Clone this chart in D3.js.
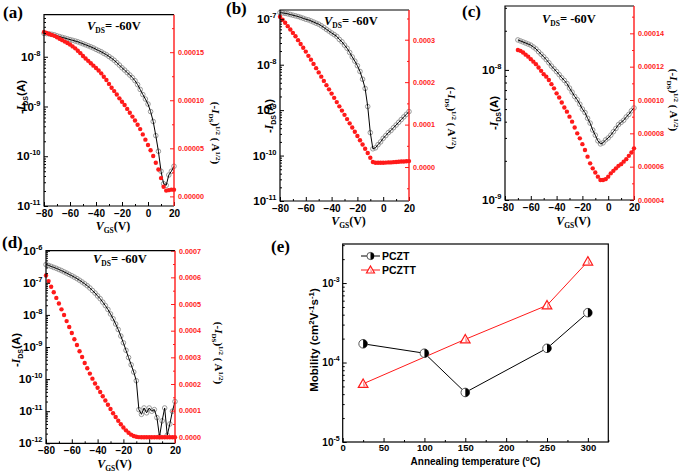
<!DOCTYPE html>
<html><head><meta charset="utf-8">
<script src="https://cdn.jsdelivr.net/npm/d3@7"></script>
<style>body{margin:0;background:#fff}svg{display:block}</style>
</head><body>
<svg id="chart" width="685" height="476"></svg>
<script>
// ---------------- data ----------------
const vgsABD = [-80,-78,-76,-74,-72,-70,-68,-66,-64,-62,-60,-58,-56,-54,-52,-50,-48,-46,-44,-42,-40,-38,-36,-34,-32,-30,-28,-26,-24,-22,-20,-18,-16,-14,-12,-10,-8,-6,-4,-2,0,2,4,6,8,10,12,14,16,18,20];
const vgsC = [-70,-68,-66,-64,-62,-60,-58,-56,-54,-52,-50,-48,-46,-44,-42,-40,-38,-36,-34,-32,-30,-28,-26,-24,-22,-20,-18,-16,-14,-12,-10,-8,-6,-4,-2,0,2,4,6,8,10,12,14,16,18,20];

// -I_DS (A)
const idsA = [2.95e-8,2.92e-8,2.88e-8,2.82e-8,2.75e-8,2.63e-8,2.54e-8,2.45e-8,2.37e-8,2.29e-8,2.21e-8,2.14e-8,2.07e-8,2.0e-8,1.91e-8,1.82e-8,1.74e-8,1.66e-8,1.58e-8,1.50e-8,1.41e-8,1.33e-8,1.26e-8,1.17e-8,1.10e-8,1.01e-8,9.3e-9,8.5e-9,7.6e-9,6.8e-9,6.0e-9,5.4e-9,4.8e-9,4.3e-9,3.8e-9,3.3e-9,2.75e-9,2.2e-9,1.74e-9,1.41e-9,1.12e-9,7.9e-10,5.0e-10,2.6e-10,1.26e-10,5.0e-11,2.8e-11,2.6e-11,4.2e-11,5.0e-11,6.3e-11];
const idsB = [1.40e-7,1.38e-7,1.35e-7,1.32e-7,1.27e-7,1.23e-7,1.19e-7,1.15e-7,1.10e-7,1.05e-7,1.0e-7,9.7e-8,9.2e-8,8.7e-8,8.2e-8,7.8e-8,7.2e-8,6.6e-8,6.0e-8,5.5e-8,5.0e-8,4.6e-8,4.2e-8,3.6e-8,3.2e-8,2.7e-8,2.3e-8,1.86e-8,1.48e-8,1.2e-8,9.5e-9,7.1e-9,4.8e-9,3.0e-9,1.2e-9,3.2e-10,1.41e-10,1.48e-10,1.74e-10,2.0e-10,2.4e-10,2.75e-10,3.2e-10,3.55e-10,4.1e-10,4.7e-10,5.4e-10,6.2e-10,7.1e-10,8.1e-10,9.3e-10];
const idsC = [1.70e-8,1.67e-8,1.64e-8,1.61e-8,1.58e-8,1.55e-8,1.50e-8,1.45e-8,1.38e-8,1.32e-8,1.26e-8,1.20e-8,1.135e-8,1.07e-8,1.02e-8,9.7e-9,9.2e-9,8.7e-9,8.3e-9,7.85e-9,7.25e-9,6.75e-9,6.25e-9,5.9e-9,5.45e-9,5.0e-9,4.7e-9,4.25e-9,3.9e-9,3.45e-9,3.15e-9,2.85e-9,2.7e-9,2.75e-9,2.9e-9,3.0e-9,3.15e-9,3.35e-9,3.55e-9,3.8e-9,3.95e-9,4.1e-9,4.35e-9,4.55e-9,4.85e-9,5.1e-9];
const idsD = [3.7e-7,3.47e-7,3.24e-7,3.02e-7,2.82e-7,2.6e-7,2.4e-7,2.19e-7,2.0e-7,1.82e-7,1.66e-7,1.5e-7,1.35e-7,1.2e-7,1.06e-7,9.3e-8,8.1e-8,6.9e-8,5.75e-8,4.8e-8,3.9e-8,3.2e-8,2.5e-8,1.95e-8,1.48e-8,1.07e-8,7.6e-9,5.2e-9,3.5e-9,2.2e-9,1.35e-9,7.9e-10,4.7e-10,2.8e-10,1.66e-10,8.9e-11,1.12e-11,8e-12,1.26e-11,8.9e-12,1.26e-11,1.0e-11,1.12e-11,6.3e-12,1.6e-12,5e-12,1.26e-11,1.8e-12,4e-12,1.0e-11,2.0e-11];

// (-I_DS)^1/2 in units of 1e-4 A^1/2
const sqrtA = [1.71,1.70,1.69,1.68,1.67,1.655,1.64,1.625,1.61,1.595,1.58,1.56,1.54,1.515,1.49,1.46,1.435,1.41,1.385,1.36,1.335,1.31,1.28,1.245,1.21,1.17,1.13,1.095,1.06,1.02,0.985,0.95,0.91,0.87,0.83,0.79,0.745,0.70,0.645,0.59,0.535,0.48,0.42,0.35,0.28,0.19,0.10,0.06,0.065,0.07,0.07];
const sqrtB = [3.54,3.47,3.40,3.32,3.24,3.16,3.08,2.99,2.90,2.81,2.72,2.62,2.53,2.43,2.33,2.23,2.13,2.03,1.93,1.83,1.73,1.63,1.53,1.43,1.33,1.23,1.13,1.03,0.93,0.83,0.73,0.63,0.53,0.43,0.33,0.22,0.12,0.10,0.10,0.10,0.10,0.105,0.11,0.11,0.115,0.12,0.125,0.13,0.13,0.135,0.14];
const sqrtC = [1.30,1.295,1.285,1.272,1.26,1.245,1.23,1.215,1.195,1.175,1.155,1.14,1.12,1.095,1.07,1.04,1.015,0.985,0.955,0.93,0.90,0.87,0.835,0.80,0.77,0.735,0.70,0.66,0.62,0.59,0.565,0.54,0.52,0.52,0.525,0.54,0.56,0.575,0.59,0.605,0.615,0.63,0.645,0.665,0.685,0.71];
const sqrtD = [6.07,5.86,5.65,5.44,5.23,5.02,4.80,4.59,4.36,4.14,3.91,3.68,3.46,3.23,3.01,2.79,2.59,2.39,2.20,2.02,1.86,1.70,1.54,1.38,1.22,1.06,0.90,0.76,0.62,0.49,0.37,0.26,0.17,0.10,0.05,0.02,0.005,0,0,0,0,0,0,0,0,0,0,0,0,0,0];

// tick labels
const xTicksV = [-80,-60,-40,-20,0,20];
const logTicksA = [1e-11,1e-10,1e-9,1e-8];
const logTicksB = [1e-11,1e-10,1e-9,1e-8,1e-7];
const logTicksC = [1e-9,1e-8];
const logTicksD = [1e-12,1e-11,1e-10,1e-9,1e-8,1e-7,1e-6];
const rTicksA = [0,0.5,1.0,1.5];
const rLabelsA = ["0.00000","0.00005","0.00010","0.00015"];
const rTicksB = [0,1,2,3];
const rLabelsB = ["0.0000","0.0001","0.0002","0.0003"];
const rTicksC = [0.4,0.6,0.8,1.0,1.2,1.4];
const rLabelsC = ["0.00004","0.00006","0.00008","0.00010","0.00012","0.00014"];
const rTicksD = [0,1,2,3,4,5,6,7];
const rLabelsD = ["0.0000","0.0001","0.0002","0.0003","0.0004","0.0005","0.0006","0.0007"];

// (e) mobility
const tempPCZT = [25,100,150,250,300];
const mobPCZT = [1.72e-4,1.31e-4,4.2e-5,1.51e-4,4.24e-4];
const tempPCZTT = [25,150,250,300];
const mobPCZTT = [5.4e-5,1.96e-4,5.24e-4,1.87e-3];
const tempTicks = [0,50,100,150,200,250,300];
const mobTicks = [1e-5,1e-4,1e-3];

// ---------------- drawing ----------------
const svg = d3.select('#chart');
const SANS = "'Liberation Sans', Arial, sans-serif";
const SERIF = "'Liberation Serif', 'Times New Roman', serif";
const RED = '#ff1a1a';

function logMinors(domain) {
  const out = [];
  const lo = Math.floor(Math.log10(domain[0])), hi = Math.ceil(Math.log10(domain[1]));
  for (let e = lo; e <= hi; e++) for (let m = 2; m <= 9; m++) {
    const v = m * Math.pow(10, e);
    if (v > domain[0] && v < domain[1]) out.push(v);
  }
  return out;
}

function styleAxis(g, color) {
  g.select('.domain').remove();
  g.selectAll('line').attr('stroke', color).attr('stroke-width', 1);
  g.selectAll('text').attr('fill', color);
}
function powLabels(g, size, expSize) {
  g.selectAll('.tick text').each(function(d) {
    const t = d3.select(this);
    const e = Math.round(Math.log10(d));
    t.text(null).attr('font-family', SANS).attr('font-weight', 'bold').attr('font-size', size);
    t.append('tspan').text('10');
    t.append('tspan').attr('dy', -5).attr('font-size', expSize).text(String(e));
  });
}

function transferPanel(c) {
  const g = svg.append('g');
  const x = d3.scaleLinear().domain([-80, 20]).range([c.x0, c.x1]);
  const yL = d3.scaleLog().domain(c.logDomain).range([c.y1, c.y0]);
  const yR = d3.scaleLinear().domain(c.rDomain).range([c.y1, c.y0]);

  // black (log) series: open gray circles + black line
  const bp = c.vgs.map((v, i) => [v, c.ids[i]]).filter(d => d[1] != null);
  g.append('g').selectAll('circle').data(bp).join('circle')
    .attr('cx', d => x(d[0])).attr('cy', d => yL(d[1])).attr('r', 2.3)
    .attr('fill', 'none').attr('stroke', '#8f8f8f').attr('stroke-width', 0.9);
  g.append('path').datum(bp)
    .attr('d', d3.line().x(d => x(d[0])).y(d => yL(d[1])))
    .attr('fill', 'none').attr('stroke', '#000').attr('stroke-width', 1);

  // red sqrt series
  const rp = c.vgs.map((v, i) => [v, c.sqrt[i]]).filter(d => d[1] != null);
  g.append('g').selectAll('circle').data(rp).join('circle')
    .attr('cx', d => x(d[0])).attr('cy', d => yR(d[1])).attr('r', 2.2)
    .attr('fill', RED);

  // bottom axis
  const bx = g.append('g').attr('transform', `translate(0,${c.y1})`)
    .call(d3.axisBottom(x).tickValues(xTicksV).tickSize(-4).tickPadding(3.5).tickFormat(d3.format('d')));
  styleAxis(bx, '#000');
  bx.selectAll('text').attr('font-family', SANS).attr('font-weight', 'bold').attr('font-size', 10);
  const bxm = g.append('g').attr('transform', `translate(0,${c.y1})`)
    .call(d3.axisBottom(x).tickValues([-70,-50,-30,-10,10]).tickSize(-2).tickFormat(''));
  styleAxis(bxm, '#000');

  // left log axis
  const ly = g.append('g').attr('transform', `translate(${c.x0},0)`)
    .call(d3.axisLeft(yL).tickValues(c.logTicks).tickSize(-4).tickPadding(3.5));
  styleAxis(ly, '#000');
  powLabels(ly, 11.5, 7.5);
  const lym = g.append('g').attr('transform', `translate(${c.x0},0)`)
    .call(d3.axisLeft(yL).tickValues(logMinors(c.logDomain)).tickSize(-2).tickFormat(''));
  styleAxis(lym, '#000');

  // right linear axis (red)
  const ry = g.append('g').attr('transform', `translate(${c.x1},0)`)
    .call(d3.axisRight(yR).tickValues(c.rTicks).tickSize(-4).tickPadding(4)
      .tickFormat((d, i) => c.rLabels[i]));
  styleAxis(ry, RED);
  ry.selectAll('text').attr('font-family', SANS).attr('font-weight', 'bold').attr('font-size', 7.2);
  const rym = g.append('g').attr('transform', `translate(${c.x1},0)`)
    .call(d3.axisRight(yR).tickValues(c.rMinor).tickSize(-2).tickFormat(''));
  styleAxis(rym, RED);

  // frame
  g.append('path').attr('d', `M${c.x1},${c.y0}H${c.x0}V${c.y1}H${c.x1}`)
    .attr('fill', 'none').attr('stroke', '#000').attr('stroke-width', 1.2);
  g.append('line').attr('x1', c.x1).attr('x2', c.x1).attr('y1', c.y0).attr('y2', c.y1)
    .attr('stroke', RED).attr('stroke-width', 1.4);

  // panel letter
  g.append('text').attr('x', c.letterX).attr('y', c.letterY)
    .attr('font-family', SERIF).attr('font-weight', 'bold').attr('font-size', 17).text(c.letter);

  // V_DS label
  const vt = g.append('text').attr('x', c.vdsX).attr('y', c.vdsY)
    .attr('font-family', SERIF).attr('font-weight', 'bold').attr('font-size', 12.5);
  vt.append('tspan').attr('font-style', 'italic').text('V');
  vt.append('tspan').attr('font-size', 7.5).attr('dy', 3).text('DS');
  vt.append('tspan').attr('dy', -3).text('= -60V');

  // x title
  const xt = g.append('text').attr('x', (c.x0 + c.x1) / 2 + 4).attr('y', c.xTitleY)
    .attr('text-anchor', 'middle')
    .attr('font-family', SERIF).attr('font-weight', 'bold').attr('font-size', 12);
  xt.append('tspan').attr('font-style', 'italic').text('V');
  xt.append('tspan').attr('font-size', 7.5).attr('dy', 3).text('GS');
  xt.append('tspan').attr('dy', -3).text('(V)');

  // left title
  const lt = g.append('text').attr('transform', `translate(${c.lTitleX},${c.lTitleY}) rotate(-90)`)
    .attr('text-anchor', 'middle').attr('dy', '0.35em')
    .attr('font-family', SANS).attr('font-weight', 'bold').attr('font-size', 11.5);
  lt.append('tspan').text('-');
  lt.append('tspan').attr('font-family', SERIF).attr('font-style', 'italic').text('I');
  lt.append('tspan').attr('font-size', 7).attr('dy', 3).text('DS');
  lt.append('tspan').attr('dy', -3).text('(A)');

  // right title
  const rt = g.append('text').attr('transform', `translate(${c.rTitleX},${c.rTitleY}) rotate(90)`)
    .attr('text-anchor', 'middle').attr('dy', '0.35em')
    .attr('font-family', SERIF).attr('font-weight', 'bold').attr('font-size', 11);
  rt.append('tspan').text('(-');
  rt.append('tspan').attr('font-style', 'italic').text('I');
  rt.append('tspan').attr('font-size', 7).attr('dy', 3).text('DS');
  rt.append('tspan').attr('dy', -3).text(')');
  rt.append('tspan').attr('font-size', 7).attr('dy', -4).text('1/2');
  rt.append('tspan').attr('dy', 4).text(' ( A');
  rt.append('tspan').attr('font-size', 7).attr('dy', -4).text('1/2');
  rt.append('tspan').attr('dy', 4).text(')');
}

transferPanel({ letter: '(a)', letterX: 3, letterY: 18, x0: 44, x1: 174, y0: 14.7, y1: 206,
  vgs: vgsABD, ids: idsA, sqrt: sqrtA,
  logDomain: [1e-11, 7e-8], logTicks: logTicksA,
  rDomain: [-0.1, 1.89], rTicks: rTicksA, rLabels: rLabelsA, rMinor: [0.25,0.75,1.25,1.75],
  vdsX: 87, vdsY: 30, xTitleY: 230, lTitleX: 21, lTitleY: 97, rTitleX: 216, rTitleY: 133 });

transferPanel({ letter: '(b)', letterX: 226, letterY: 14, x0: 280, x1: 409, y0: 10, y1: 201,
  vgs: vgsABD, ids: idsB, sqrt: sqrtB,
  logDomain: [1e-11, 1.6e-7], logTicks: logTicksB,
  rDomain: [-0.8, 3.7], rTicks: rTicksB, rLabels: rLabelsB, rMinor: [-0.5,0.5,1.5,2.5,3.5],
  vdsX: 324, vdsY: 25, xTitleY: 225, lTitleX: 269, lTitleY: 116, rTitleX: 452, rTitleY: 118 });

transferPanel({ letter: '(c)', letterX: 462, letterY: 17, x0: 505, x1: 634, y0: 6, y1: 200,
  vgs: vgsC, ids: idsC, sqrt: sqrtC,
  logDomain: [1e-9, 3.1e-8], logTicks: logTicksC,
  rDomain: [0.4, 1.564], rTicks: rTicksC, rLabels: rLabelsC, rMinor: [0.5,0.7,0.9,1.1,1.3,1.5],
  vdsX: 542, vdsY: 23, xTitleY: 225, lTitleX: 494, lTitleY: 113, rTitleX: 674, rTitleY: 100 });

transferPanel({ letter: '(d)', letterX: 2, letterY: 248, x0: 46, x1: 175, y0: 250.7, y1: 443.3,
  vgs: vgsABD, ids: idsD, sqrt: sqrtD,
  logDomain: [1e-12, 1e-6], logTicks: logTicksD,
  rDomain: [-0.225, 7.0], rTicks: rTicksD, rLabels: rLabelsD, rMinor: [0.5,1.5,2.5,3.5,4.5,5.5,6.5],
  vdsX: 93, vdsY: 263, xTitleY: 467.5, lTitleX: 16, lTitleY: 350, rTitleX: 219, rTitleY: 353 });

// ---------------- panel (e) ----------------
(function() {
  const c = { x0: 342.7, x1: 608.3, y0: 244, y1: 442 };
  const g = svg.append('g');
  const x = d3.scaleLinear().domain([0, 325]).range([c.x0, c.x1]);
  const y = d3.scaleLog().domain([1e-5, 3.1e-3]).range([c.y1, c.y0]);

  const bx = g.append('g').attr('transform', `translate(0,${c.y1})`)
    .call(d3.axisBottom(x).tickValues(tempTicks).tickSize(-4).tickPadding(2.5).tickFormat(d3.format('d')));
  styleAxis(bx, '#000');
  bx.selectAll('text').attr('font-family', SANS).attr('font-weight', 'bold').attr('font-size', 9.5);
  const bxm = g.append('g').attr('transform', `translate(0,${c.y1})`)
    .call(d3.axisBottom(x).tickValues([25,75,125,175,225,275,325]).tickSize(-2).tickFormat(''));
  styleAxis(bxm, '#000');
  const ly = g.append('g').attr('transform', `translate(${c.x0},0)`)
    .call(d3.axisLeft(y).tickValues(mobTicks).tickSize(-4).tickPadding(3));
  styleAxis(ly, '#000');
  powLabels(ly, 10, 7);
  const lym = g.append('g').attr('transform', `translate(${c.x0},0)`)
    .call(d3.axisLeft(y).tickValues(logMinors([1e-5, 3.1e-3])).tickSize(-2).tickFormat(''));
  styleAxis(lym, '#000');

  g.append('rect').attr('x', c.x0).attr('y', c.y0).attr('width', c.x1 - c.x0).attr('height', c.y1 - c.y0)
    .attr('fill', 'none').attr('stroke', '#000').attr('stroke-width', 1.2);

  const line = d3.line().x(d => x(d[0])).y(d => y(d[1]));
  const p1 = tempPCZT.map((t, i) => [t, mobPCZT[i]]);
  const p2 = tempPCZTT.map((t, i) => [t, mobPCZTT[i]]);
  g.append('path').datum(p1).attr('d', line).attr('fill', 'none').attr('stroke', '#000').attr('stroke-width', 1);
  g.append('path').datum(p2).attr('d', line).attr('fill', 'none').attr('stroke', RED).attr('stroke-width', 1);

  function halfCircle(sel, cx, cy, r) {
    sel.append('circle').attr('cx', cx).attr('cy', cy).attr('r', r).attr('fill', '#fff').attr('stroke', '#555').attr('stroke-width', 1);
    sel.append('path').attr('d', `M${cx},${cy - r}A${r},${r} 0 0 1 ${cx},${cy + r}Z`).attr('fill', '#000');
  }
  function triangle(sel, cx, cy, r) {
    sel.append('path').attr('d', `M${cx},${cy - r}L${cx + r},${cy + r * 0.75}L${cx - r},${cy + r * 0.75}Z`)
      .attr('fill', '#fff').attr('stroke', RED).attr('stroke-width', 1.2);
    sel.append('path').attr('d', `M${cx},${cy - r + 2}L${cx + r - 2.2},${cy + r * 0.75 - 0.8}L${cx},${cy + r * 0.75 - 0.8}Z`)
      .attr('fill', RED).attr('opacity', 0.5);
  }
  const mg = g.append('g');
  p1.forEach(d => halfCircle(mg, x(d[0]), y(d[1]), 4.3));
  p2.forEach(d => triangle(mg, x(d[0]), y(d[1]), 4.8));

  // legend
  const lg = g.append('g');
  lg.append('line').attr('x1', 361).attr('x2', 380).attr('y1', 256).attr('y2', 256).attr('stroke', '#000');
  halfCircle(lg, 370.5, 256, 3.6);
  lg.append('text').attr('x', 382).attr('y', 259.8).attr('font-family', SANS).attr('font-weight', 'bold').attr('font-size', 10.5).text('PCZT');
  lg.append('line').attr('x1', 361).attr('x2', 380).attr('y1', 270).attr('y2', 270).attr('stroke', RED);
  triangle(lg, 370.5, 270, 4);
  lg.append('text').attr('x', 382).attr('y', 273.8).attr('font-family', SANS).attr('font-weight', 'bold').attr('font-size', 10.5).text('PCZTT');

  g.append('text').attr('x', 271).attr('y', 252).attr('font-family', SERIF).attr('font-weight', 'bold').attr('font-size', 17).text('(e)');

  const xt = g.append('text').attr('x', (c.x0 + c.x1) / 2).attr('y', 464.5).attr('text-anchor', 'middle')
    .attr('font-family', SANS).attr('font-weight', 'bold').attr('font-size', 10);
  xt.append('tspan').text('Annealing temperature (');
  xt.append('tspan').attr('font-size', 7).attr('dy', -4).text('o');
  xt.append('tspan').attr('dy', 4).text('C)');

  const yt = g.append('text').attr('transform', 'translate(314,340) rotate(-90)').attr('text-anchor', 'middle').attr('dy', '0.35em')
    .attr('font-family', SANS).attr('font-weight', 'bold').attr('font-size', 11.5);
  yt.append('tspan').text('Mobility (cm');
  yt.append('tspan').attr('font-size', 8).attr('dy', -4).text('2');
  yt.append('tspan').attr('dy', 4).text('V');
  yt.append('tspan').attr('font-size', 8).attr('dy', -4).text('-1');
  yt.append('tspan').attr('dy', 4).text('s');
  yt.append('tspan').attr('font-size', 8).attr('dy', -4).text('-1');
  yt.append('tspan').attr('dy', 4).text(')');
})();
</script>
</body></html>
